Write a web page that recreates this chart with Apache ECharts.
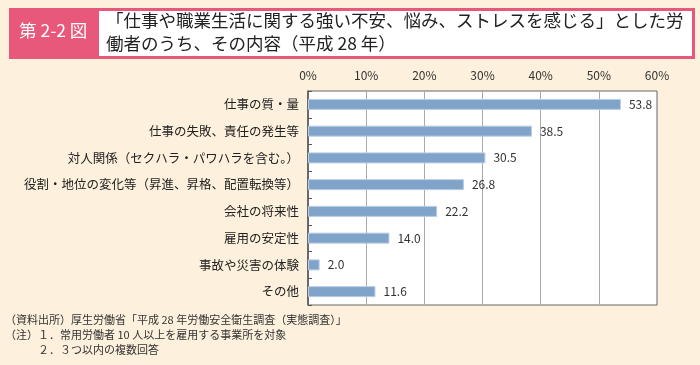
<!DOCTYPE html>
<html>
<head>
<meta charset="utf-8">
<script src="https://cdn.jsdelivr.net/npm/echarts@6/dist/echarts.min.js"></script>
<style>
html,body{margin:0;padding:0;background:#fdf0dc;}
#c{width:700px;height:365px;}
</style>
</head>
<body>
<div id="c"></div>
<script>
const categories = ['仕事の質・量','仕事の失敗、責任の発生等','対人関係（セクハラ・パワハラを含む。）','役割・地位の変化等（昇進、昇格、配置転換等）','会社の将来性','雇用の安定性','事故や災害の体験','その他'];
const values = [53.8, 38.5, 30.5, 26.8, 22.2, 14.0, 2.0, 11.6];
const xTicks = [0, 10, 20, 30, 40, 50, 60];
const figNo = '第 2-2 図';
const titleLines = ['「仕事や職業生活に関する強い不安、悩み、ストレスを感じる」とした労', '働者のうち、その内容（平成 28 年）'];
const notes = ['（資料出所）厚生労働省「平成 28 年労働安全衛生調査（実態調査）」', '（注）１．常用労働者 10 人以上を雇用する事業所を対象', '　　　２．３つ以内の複数回答'];

const FONT = '"Noto Sans CJK JP", sans-serif';
const chart = echarts.init(document.getElementById('c'));
chart.setOption({
  backgroundColor: '#fdf0dc',
  animation: false,
  textStyle: { fontFamily: FONT },
  grid: { left: 308, top: 91, width: 349, height: 214, show: true, backgroundColor: '#ffffff', borderColor: '#666', borderWidth: 1 },
  xAxis: {
    type: 'value', position: 'top', min: xTicks[0], max: xTicks[xTicks.length-1], interval: 10,
    axisLine: { show: false }, axisTick: { show: false },
    axisLabel: { formatter: '{value}%', color: '#333', fontSize: 12, margin: 10, fontFamily: FONT },
    splitLine: { show: true, lineStyle: { color: '#aaa', width: 1 } }
  },
  yAxis: {
    type: 'category', data: categories, inverse: true,
    axisLine: { show: true, lineStyle: { color: '#555', width: 1.5 } },
    axisTick: { show: true, inside: true, length: 4, lineStyle: { color: '#555' } },
    axisLabel: { color: '#222', fontSize: 12.5, margin: 9, fontFamily: FONT }
  },
  series: [{
    type: 'bar', data: values, barWidth: 11,
    itemStyle: { color: '#7fa3c9', borderColor: '#b9cde3', borderWidth: 1 },
    label: { show: true, position: 'right', distance: 8, color: '#333', fontSize: 12, fontFamily: FONT,
      formatter: p => p.value.toFixed(1) }
  }],
  graphic: [
    { type: 'rect', shape: { x: 9, y: 8, width: 686, height: 51 }, style: { fill: '#e8587a' } },
    { type: 'rect', shape: { x: 99, y: 11, width: 593, height: 45 }, style: { fill: '#ffffff' } },
    { type: 'text', left: 19, top: 22, style: { text: figNo, fill: '#fff', fontSize: 17.5, fontFamily: FONT } },
    { type: 'text', left: 106, top: 12, style: { text: titleLines[0], fill: '#222', fontSize: 17.5, fontFamily: FONT } },
    { type: 'text', left: 106, top: 35, style: { text: titleLines[1], fill: '#222', fontSize: 17.5, fontFamily: FONT } },
    { type: 'text', left: 5, top: 314, style: { text: notes[0], fill: '#333', fontSize: 11, fontFamily: FONT } },
    { type: 'text', left: 5, top: 329, style: { text: notes[1], fill: '#333', fontSize: 11, fontFamily: FONT } },
    { type: 'text', left: 5, top: 344, style: { text: notes[2], fill: '#333', fontSize: 11, fontFamily: FONT } }
  ]
});
</script>
</body>
</html>
